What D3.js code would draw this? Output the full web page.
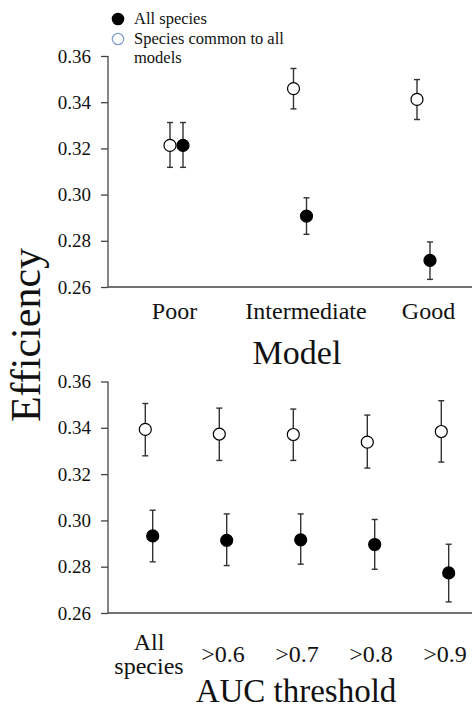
<!DOCTYPE html>
<html>
<head>
<meta charset="utf-8">
<script src="https://cdn.jsdelivr.net/npm/d3@7"></script>
<style>
  body { margin: 0; background: #fff; }
  svg text, svg tspan { font-family: "Liberation Serif", "Times New Roman", serif !important; fill: #111; }
</style>
</head>
<body>
<div id="chart"></div>
<script>
// Top panel: model quality
let modelCats = ["Poor", "Intermediate", "Good"];
let modelAll = [0.3213, 0.2907, 0.2715];
let modelAllLo = [0.3118, 0.2828, 0.2633];
let modelAllHi = [0.3312, 0.2986, 0.2795];
let modelCommon = [0.3213, 0.3459, 0.3412];
let modelCommonLo = [0.3118, 0.3371, 0.3325];
let modelCommonHi = [0.3312, 0.3546, 0.3498];

// Bottom panel: AUC threshold
let aucCats = ["All species", ">0.6", ">0.7", ">0.8", ">0.9"];
let aucAll = [0.2933, 0.2914, 0.2916, 0.2896, 0.2773];
let aucAllLo = [0.2821, 0.2805, 0.2811, 0.2789, 0.2648];
let aucAllHi = [0.3044, 0.3028, 0.3028, 0.3004, 0.2897];
let aucCommon = [0.3393, 0.3373, 0.3371, 0.3338, 0.3384];
let aucCommonLo = [0.3279, 0.3259, 0.3259, 0.3226, 0.3252];
let aucCommonHi = [0.3505, 0.3485, 0.3481, 0.3455, 0.3517];

let yTicks = [0.26, 0.28, 0.30, 0.32, 0.34, 0.36];

var serif = "Liberation Serif, Times New Roman, serif";
var width = 475, height = 710;
var svg = d3.select("#chart").append("svg")
    .attr("width", width)
    .attr("height", height)
    .attr("font-family", serif);

var axisLeft = 108, axisRight = 472;

function drawPanel(opts) {
    var y = d3.scaleLinear().domain([0.26, 0.36]).range([opts.bottom, opts.top]);
    var x = d3.scalePoint().domain(opts.cats).range(opts.xRange);

    // y axis
    var yAxis = d3.axisLeft(y).tickValues(yTicks).tickFormat(d3.format(".2f")).tickSize(7).tickPadding(10);
    var gy = svg.append("g").attr("transform", "translate(" + axisLeft + ",0)").call(yAxis);
    gy.attr("font-family", serif).attr("font-size", 19);
    gy.select(".domain").remove();
    gy.selectAll("line").attr("stroke", "#444").attr("stroke-width", 1.3);
    gy.selectAll("text").style("font-family", serif).style("font-size", "19px").attr("fill", "#111");
    svg.append("line")
        .attr("x1", axisLeft).attr("x2", axisLeft)
        .attr("y1", y(0.36)).attr("y2", y(0.26))
        .attr("stroke", "#444").attr("stroke-width", 1.3);
    // x axis line
    svg.append("line")
        .attr("x1", axisLeft).attr("x2", axisRight)
        .attr("y1", y(0.26)).attr("y2", y(0.26))
        .attr("stroke", "#444").attr("stroke-width", 1.3);

    // category labels
    opts.cats.forEach(function (c, i) {
        var lines = opts.labelLines[i];
        var lx = x(c) + (opts.labelShift ? opts.labelShift[i] : 0);
        var t = svg.append("text")
            .attr("x", lx)
            .attr("y", opts.labelY - (lines.length - 1) * 12)
            .attr("text-anchor", "middle")
            .style("font-family", serif)
            .style("font-size", "24px");
        lines.forEach(function (l, j) {
            t.append("tspan")
                .attr("x", lx)
                .attr("dy", j === 0 ? 0 : 24)
                .text(l);
        });
    });

    // series: open (common) on the left, filled (all) on the right
    var series = [
        { mean: opts.common, lo: opts.commonLo, hi: opts.commonHi, dx: -opts.offset, fill: "#fff" },
        { mean: opts.all, lo: opts.allLo, hi: opts.allHi, dx: opts.offset, fill: "#000" }
    ];
    series.forEach(function (s) {
        var g = svg.append("g");
        opts.cats.forEach(function (c, i) {
            var cx = x(c) + s.dx;
            g.append("line")
                .attr("x1", cx).attr("x2", cx)
                .attr("y1", y(s.lo[i])).attr("y2", y(s.hi[i]))
                .attr("stroke", "#333").attr("stroke-width", 1.4);
            [s.lo[i], s.hi[i]].forEach(function (v) {
                g.append("line")
                    .attr("x1", cx - 3).attr("x2", cx + 3)
                    .attr("y1", y(v)).attr("y2", y(v))
                    .attr("stroke", "#333").attr("stroke-width", 1.4);
            });
            g.append("circle")
                .attr("cx", cx).attr("cy", y(s.mean[i]))
                .attr("r", 6)
                .attr("fill", s.fill)
                .attr("stroke", "#000").attr("stroke-width", 1.2);
        });
    });

    svg.append("text")
        .attr("x", opts.titleX).attr("y", opts.titleY)
        .attr("text-anchor", "middle")
        .style("font-family", serif)
        .style("font-size", opts.titleSize)
        .text(opts.title);
}

drawPanel({
    cats: modelCats, labelLines: [["Poor"], ["Intermediate"], ["Good"]],
    labelShift: [-2, 6, 5],
    all: modelAll, allLo: modelAllLo, allHi: modelAllHi,
    common: modelCommon, commonLo: modelCommonLo, commonHi: modelCommonHi,
    top: 56, bottom: 287, xRange: [176.5, 423.5], offset: 6.5,
    labelY: 319, title: "Model", titleX: 297, titleY: 364, titleSize: "34px"
});

drawPanel({
    cats: aucCats, labelLines: [["All", "species"], [">0.6"], [">0.7"], [">0.8"], [">0.9"]],
    all: aucAll, allLo: aucAllLo, allHi: aucAllHi,
    common: aucCommon, commonLo: aucCommonLo, commonHi: aucCommonHi,
    top: 381.5, bottom: 613, xRange: [149, 445], offset: 3.7,
    labelY: 662, title: "AUC threshold", titleX: 296, titleY: 702, titleSize: "33px"
});

// shared y label
svg.append("text")
    .attr("transform", "translate(40,335) rotate(-90)")
    .attr("text-anchor", "middle")
    .style("font-family", serif)
    .style("font-size", "42px")
    .text("Efficiency");

// legend
var legend = [
    { lines: ["All species"], fill: "#000", stroke: "#000" },
    { lines: ["Species common to all", "models"], fill: "#fff", stroke: "#7f9fcc" }
];
var legY = [19, 39];
legend.forEach(function (d, i) {
    svg.append("circle")
        .attr("cx", 118).attr("cy", legY[i]).attr("r", 5.7)
        .attr("fill", d.fill).attr("stroke", d.stroke).attr("stroke-width", 1.2);
    var t = svg.append("text").attr("x", 134).attr("y", legY[i] + 5)
        .style("font-family", serif)
        .style("font-size", "16.5px");
    d.lines.forEach(function (l, j) {
        t.append("tspan").attr("x", 134).attr("dy", j === 0 ? 0 : 19).text(l);
    });
});
</script>
</body>
</html>
